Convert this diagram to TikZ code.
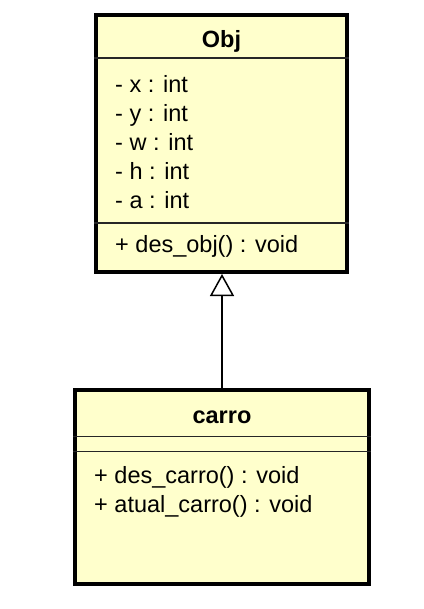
\documentclass[tikz,border=0pt]{standalone}
\usepackage{fontspec}
\setmainfont{Liberation Sans}
\usetikzlibrary{arrows.meta}
\definecolor{umlfill}{HTML}{FFFFCC}
\tikzset{
  x=1pt, y=-1pt,
  classbox/.style={draw=black, fill=umlfill, line width=4pt, rectangle, inner sep=0pt},
  divider/.style={draw=black!85, line width=1.5pt},
  member/.style={anchor=base west, inner sep=0pt, font=\fontsize{23.5}{29}\selectfont},
  title/.style={anchor=base, inner sep=0pt, font=\fontsize{23.5}{29}\selectfont\bfseries},
  inherit/.style={line width=1.5pt, -{Triangle[open, length=22pt, width=24pt, line width=1.5pt]}}
}
\begin{document}
\begin{tikzpicture}
\useasboundingbox[fill=white] (0,0) rectangle (423,609);
% Obj class
\node[classbox, minimum width=251pt, minimum height=256.5pt] (obj) at (221.5,143.75) {};
\node[title] (objtitle) at (221.5,48) {Obj};
\draw[divider] (obj.west |- 0,58) -- (obj.east |- 0,58);
\node[member] (ax) at (115,92.7) {- x : int};
\node[member] (ay) at (115,121.7) {- y : int};
\node[member] (aw) at (115,150.7) {- w : int};
\node[member] (ah) at (115,179.7) {- h : int};
\node[member] (aa) at (115,208.7) {- a : int};
\draw[divider] (obj.west |- 0,223) -- (obj.east |- 0,223);
\node[member] (mobj) at (115,252.5) {+ des\_obj() : void};
% carro class
\node[classbox, minimum width=294pt, minimum height=194pt] (carro) at (222,487) {};
\node[title] (carrotitle) at (222,423.3) {carro};
\draw[divider] (carro.west |- 0,436.7) -- (carro.east |- 0,436.7);
\draw[divider] (carro.west |- 0,451.7) -- (carro.east |- 0,451.7);
\node[member] (mdes) at (94,483.3) {+ des\_carro() : void};
\node[member] (matual) at (94,512.7) {+ atual\_carro() : void};
% generalization
\draw[inherit] (carro.north) -- (carro.north |- obj.south);
\end{tikzpicture}
\end{document}
